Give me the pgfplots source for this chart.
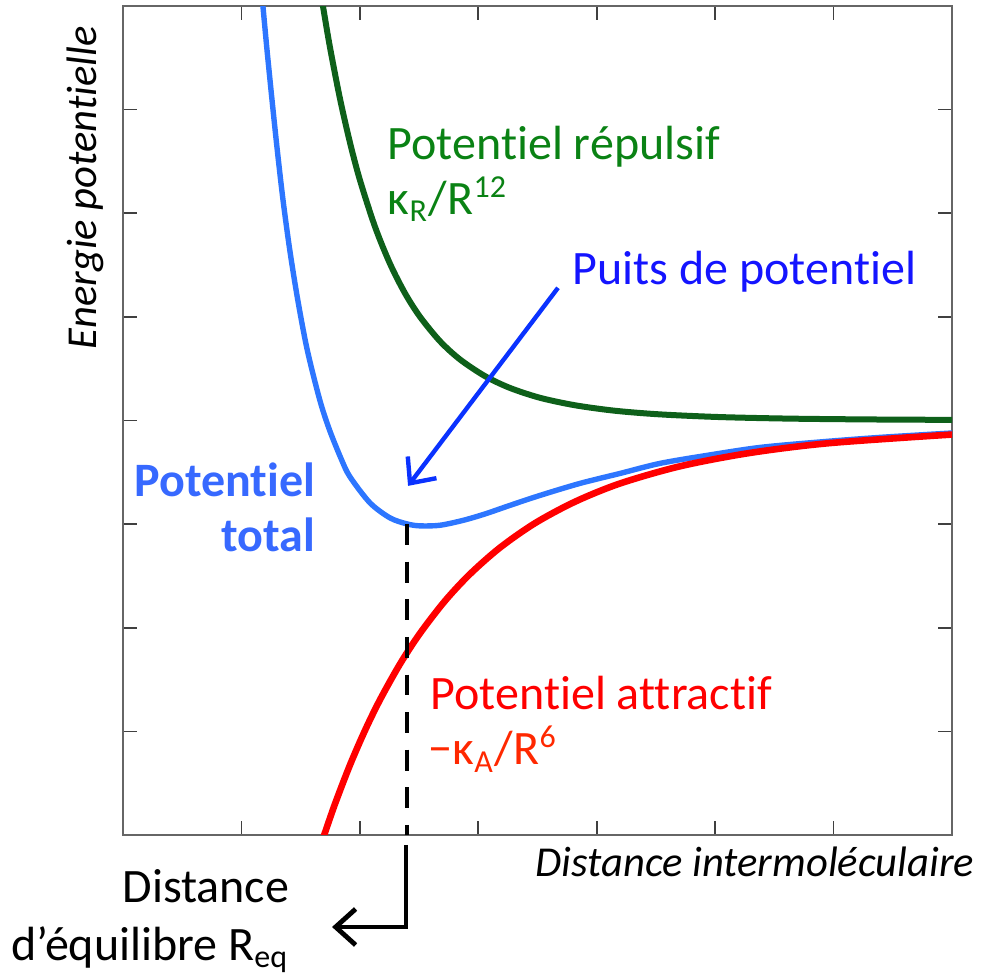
\documentclass[border=0pt]{standalone}
\usepackage{pgfplots}
\pgfplotsset{compat=1.18}
\usepackage{fontspec}
\setmainfont{Carlito}[Ligatures=NoCommon]
\usetikzlibrary{arrows.meta}
\definecolor{cblue}{RGB}{45,118,255}
\definecolor{cgreen}{RGB}{14,96,26}
\definecolor{cred}{RGB}{255,0,0}
\definecolor{tgreen}{RGB}{10,130,20}
\definecolor{tblue}{RGB}{20,20,255}
\definecolor{ttotal}{RGB}{55,105,255}
\definecolor{tred}{RGB}{255,0,0}
\definecolor{tred2}{RGB}{255,40,0}
\definecolor{arrblue}{RGB}{10,50,255}
\newcommand{\F}{\fontsize{12}{14}\selectfont}
\newcommand{\FI}{\fontsize{10.65}{13}\selectfont\itshape}
\begin{document}
\begin{tikzpicture}
\begin{axis}[
  name=ax,
  scale only axis,
  width=207.25pt, height=207.25pt,
  xmin=0, xmax=7, ymin=0, ymax=8,
  xtick={0,...,7}, ytick={0,...,8},
  xticklabels={}, yticklabels={},
  major tick length=3.5pt,
  tick style={black!75, line width=0.4pt},
  axis line style={black!60, line width=0.5pt},
  clip mode=individual,
]
% total potential
\addplot[cblue, line width=1.35pt, smooth] coordinates {
(1.1686,8.156) (1.1821,7.992) (1.2159,7.577) (1.2581,7.095) (1.3025,6.612)
(1.3510,6.129) (1.4080,5.647) (1.4756,5.164) (1.5558,4.681) (1.6613,4.199)
(1.7437,3.909) (1.8458,3.620) (1.9168,3.456) (2.0856,3.205) (2.2545,3.060)
(2.3980,3.002) (2.5078,2.983) (2.6767,2.989) (2.8709,3.036) (3.0567,3.098)
(3.2678,3.181) (3.5211,3.277) (3.8588,3.393) (4.1966,3.489) (4.5343,3.586)
(4.9565,3.668) (5.3787,3.740) (5.8853,3.793) (6.3920,3.837) (7.0084,3.880)};
% repulsive
\addplot[cgreen, line width=1.5pt, smooth] coordinates {
(1.6634,8.180) (1.6888,7.996) (1.7479,7.600) (1.8323,7.105) (1.9168,6.681)
(2.0012,6.318) (2.1278,5.870) (2.2545,5.513) (2.3811,5.228) (2.5078,5.001)
(2.6767,4.765) (2.8456,4.589) (3.0567,4.428) (3.2678,4.314) (3.5211,4.219)
(3.8166,4.147) (4.1544,4.094) (4.5343,4.059) (5.0410,4.033) (5.6320,4.018)
(6.3075,4.010) (7.0084,4.006)};
% attractive
\addplot[cred, line width=1.65pt, smooth] coordinates {
(1.6634,-0.122) (1.6972,-0.006) (1.7901,0.300) (1.9168,0.676) (2.0434,1.009)
(2.1701,1.305) (2.3389,1.650) (2.5078,1.946) (2.7189,2.259) (2.9300,2.518)
(3.1833,2.773) (3.4789,3.009) (3.8166,3.216) (4.1966,3.392) (4.7032,3.558)
(5.2943,3.687) (5.9698,3.782) (7.0084,3.865)};
% annotations
\draw[black, line width=1.2pt, dash pattern=on 5.2pt off 4.2pt] (axis cs:2.398,3.0) -- (axis cs:2.398,0);
\draw[black, line width=1.2pt, -{Straight Barb[length=5pt,width=9pt,line width=1.2pt]}]
  (axis cs:2.390,-0.0965) -- (axis cs:2.390,-0.888) -- (axis cs:1.765,-0.888);
\draw[arrblue, line width=1.1pt, -{Straight Barb[length=5pt,width=9pt,line width=1.1pt]}]
  (axis cs:3.673,5.280) -- (axis cs:2.407,3.369);
\node[anchor=base west, text=tgreen, font=\F, inner sep=0pt] at (axis cs:2.229,6.515) {Potentiel répulsif};
\node[anchor=base west, text=tgreen, font=\F, inner sep=0pt] at (axis cs:2.229,5.985) {κ\textsubscript{R}/R\textsuperscript{12}};
\node[anchor=base west, text=tblue, font=\F, inner sep=0pt] at (axis cs:3.791,5.309) {Puits de potentiel};
\node[anchor=base east, text=ttotal, font=\F\bfseries, inner sep=0pt] at (axis cs:1.630,3.263) {Potentiel};
\node[anchor=base east, text=ttotal, font=\F\bfseries, inner sep=0pt] at (axis cs:1.630,2.732) {total};
\node[anchor=base west, text=tred, font=\F, inner sep=0pt] at (axis cs:2.592,1.207) {Potentiel attractif};
\node[anchor=base west, text=tred2, font=\F, inner sep=0pt] at (axis cs:2.575,0.676) {−κ\textsubscript{A}/R\textsuperscript{6}};
\node[anchor=base east, font=\FI, inner sep=0pt] at (axis cs:7.194,-0.405) {Distance intermoléculaire};
\node[anchor=base, rotate=90, font=\FI, inner sep=0pt] at (axis cs:-0.22,6.245) {Energie potentielle};
\node[anchor=base east, font=\F, inner sep=0pt] at (axis cs:1.410,-0.647) {Distance};
\node[anchor=base east, font=\F, inner sep=0pt] at (axis cs:1.410,-1.207) {d’équilibre R\textsubscript{eq}};
\end{axis}
\pgfresetboundingbox
\path[use as bounding box] ([shift={(-30.75pt,-35.25pt)}]ax.south west) rectangle ([shift={(7.5pt,1.5pt)}]ax.north east);
\end{tikzpicture}
\end{document}
